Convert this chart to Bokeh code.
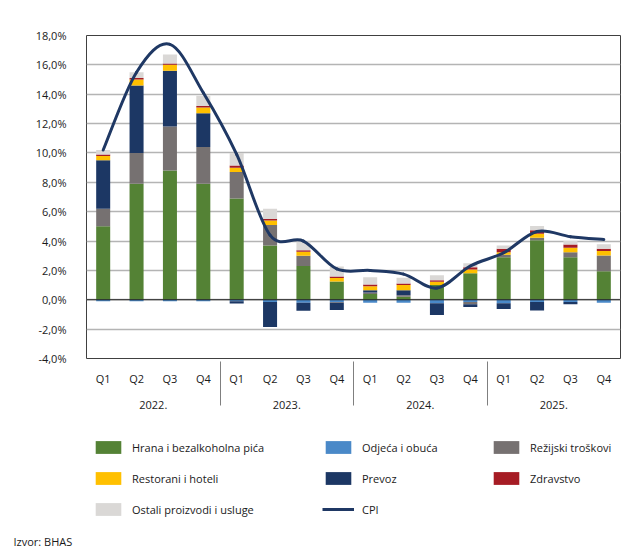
from bokeh.plotting import figure
from bokeh.models import (FactorRange, Range1d, ColumnDataSource, Span, Legend,
                          LegendItem, Label, CustomJSTickFormatter, FixedTicker)
from bokeh.layouts import column
from bokeh.embed import file_html
from bokeh.resources import INLINE

years = ["2022.", "2023.", "2024.", "2025."]
quarters = ["Q1", "Q2", "Q3", "Q4"]
factors = [(y, q) for y in years for q in quarters]

hrana     = [5.0, 7.9, 8.8, 7.9, 6.9, 3.7, 2.3, 1.25, 0.4, 0.2, 1.0, 1.8, 2.9, 4.05, 2.9, 1.95]
odjeca    = [-0.1, -0.1, -0.1, -0.1, -0.1, -0.15, -0.2, -0.15, -0.2, -0.2, -0.23, -0.15, -0.23, -0.16, -0.15, -0.2]
rezijski  = [1.2, 2.1, 3.0, 2.5, 1.8, 1.4, 0.7, -0.05, 0.1, 0.1, 0.0, -0.15, 0.16, 0.18, 0.34, 1.07]
prevoz    = [3.3, 4.6, 3.8, 2.3, -0.15, -1.7, -0.55, -0.5, 0.15, 0.35, -0.8, -0.2, -0.4, -0.57, -0.15, 0.0]
restorani = [0.3, 0.4, 0.4, 0.4, 0.3, 0.3, 0.27, 0.23, 0.27, 0.35, 0.23, 0.27, 0.18, 0.27, 0.3, 0.3]
zdravstvo = [0.1, 0.1, 0.1, 0.1, 0.14, 0.1, 0.1, 0.1, 0.12, 0.1, 0.1, 0.14, 0.23, 0.23, 0.23, 0.16]
ostali    = [0.3, 0.4, 0.6, 0.7, 0.85, 0.7, 0.6, 0.68, 0.5, 0.4, 0.34, 0.27, 0.23, 0.3, 0.23, 0.3]
cpi       = [10.2, 15.5, 17.4, 14.1, 9.9, 4.4, 4.0, 2.1, 2.0, 1.75, 0.8, 2.3, 3.2, 4.65, 4.3, 4.1]

y_ticks = [-4, -2, 0, 2, 4, 6, 8, 10, 12, 14, 16, 18]

FONT = "Open Sans"
TXT = "#1a1a1a"

# stacking order (bottom to top) and colours
series = [
    ("Hrana i bezalkoholna pića", hrana, "#548235"),
    ("Odjeća i obuća", odjeca, "#4A89C8"),
    ("Režijski troškovi", rezijski, "#767171"),
    ("Prevoz", prevoz, "#1C3764"),
    ("Restorani i hoteli", restorani, "#FFC000"),
    ("Zdravstvo", zdravstvo, "#A61C24"),
    ("Ostali proizvodi i usluge", ostali, "#DAD8D6"),
]

W = 621
FL = 86  # frame left

p = figure(x_range=FactorRange(*factors, group_padding=0, factor_padding=0),
           y_range=Range1d(-4, 18), width=W, height=425,
           output_backend="svg", toolbar_location=None,
           min_border_left=FL, min_border_top=35, min_border_right=1,
           min_border_bottom=67)
p.outline_line_color = "#404040"
p.outline_line_width = 1
p.xgrid.grid_line_color = None
p.ygrid.ticker = FixedTicker(ticks=y_ticks)
p.ygrid.grid_line_color = "#B4B4B4"
p.ygrid.grid_line_width = 1.5

n = len(factors)
pos_base = [0.0] * n
neg_base = [0.0] * n
for name, vals, col in series:
    tops, bottoms = [], []
    for i, v in enumerate(vals):
        if v >= 0:
            bottoms.append(pos_base[i]); tops.append(pos_base[i] + v); pos_base[i] += v
        else:
            tops.append(neg_base[i]); bottoms.append(neg_base[i] + v); neg_base[i] += v
    src = ColumnDataSource(dict(x=factors, top=tops, bottom=bottoms))
    p.vbar(x="x", top="top", bottom="bottom", width=0.42, source=src,
           fill_color=col, line_color=None)

p.add_layout(Span(location=0, dimension="width", line_color="#1a1a1a", line_width=1))

# smoothed CPI line (Bezier segments through the data points)
xs = [i + 0.5 for i in range(n)]
bx0, by0, bx1, by1, bcx0, bcy0, bcx1, bcy1 = [], [], [], [], [], [], [], []
for i in range(n - 1):
    a = i - 1 if i > 0 else i
    b = i + 2 if i + 2 < n else i + 1
    bx0.append(xs[i]); by0.append(cpi[i])
    bx1.append(xs[i + 1]); by1.append(cpi[i + 1])
    bcx0.append(xs[i] + (xs[i + 1] - xs[a]) / 6.0)
    bcy0.append(cpi[i] + (cpi[i + 1] - cpi[a]) / 6.0)
    bcx1.append(xs[i + 1] - (xs[b] - xs[i]) / 6.0)
    bcy1.append(cpi[i + 1] - (cpi[b] - cpi[i]) / 6.0)
p.bezier(x0=bx0, y0=by0, x1=bx1, y1=by1, cx0=bcx0, cy0=bcy0, cx1=bcx1, cy1=bcy1,
         line_color="#1F3864", line_width=3, line_cap="round")

yax = p.yaxis[0]
yax.ticker = FixedTicker(ticks=y_ticks)
yax.formatter = CustomJSTickFormatter(code="return tick.toFixed(1).replace('.', ',') + '%';")
yax.axis_line_color = None
yax.major_tick_line_color = None
yax.major_tick_out = 0
yax.major_tick_in = 0
yax.minor_tick_line_color = None
yax.major_label_standoff = 20
yax.major_label_text_font = FONT
yax.major_label_text_font_size = "11px"
yax.major_label_text_color = TXT

xax = p.xaxis[0]
xax.axis_line_color = None
xax.major_tick_line_color = None
xax.major_tick_out = 0
xax.major_tick_in = 0
xax.minor_tick_line_color = None
xax.major_label_standoff = 12
xax.major_label_text_font = FONT
xax.major_label_text_font_size = "11px"
xax.major_label_text_color = TXT
xax.group_text_font = FONT
xax.group_text_font_size = "11px"
xax.group_text_color = TXT
xax.group_text_font_style = "normal"
xax.separator_line_color = "#7f7f7f"
xax.separator_line_width = 1

# legend / source panel
H2 = 123
p2 = figure(width=W, height=H2, x_range=Range1d(0, 1), y_range=Range1d(0, 1),
            output_backend="svg", toolbar_location=None,
            x_axis_location=None, y_axis_location=None, min_border=0)
p2.frame_align = False
p2.outline_line_color = None
p2.grid.visible = False

rend = {}
for name, _, col in series:
    rend[name] = p2.vbar(x=[5], top=[5], bottom=[4], width=0.1, fill_color=col, line_color=None)
rend["CPI"] = p2.line(x=[5, 6], y=[5, 5], line_color="#1F3864", line_width=3)

SP = 15
cols = [
    (["Hrana i bezalkoholna pića", "Restorani i hoteli", "Ostali proizvodi i usluge"], 92),
    (["Odjeća i obuća", "Prevoz", "CPI"], 322),
    (["Režijski troškovi", "Zdravstvo"], 490),
]
for names, x in cols:
    k = len(names)
    h = k * 16 + (k - 1) * SP
    ybot = H2 - 14 - h
    lg = Legend(items=[LegendItem(label=nm, renderers=[rend[nm]]) for nm in names],
                location=(x, ybot), orientation="vertical",
                glyph_width=32, glyph_height=16, label_height=16, label_standoff=8,
                spacing=SP, padding=0, margin=0, border_line_color=None,
                background_fill_alpha=0, label_text_font=FONT,
                label_text_font_size="11px", label_text_color=TXT)
    p2.add_layout(lg)

p2.add_layout(Label(x=13, y=7, x_units="screen", y_units="screen", text="Izvor: BHAS",
                    text_font=FONT, text_font_size="11px", text_color=TXT,
                    text_baseline="middle"))

layout = column(p, p2, spacing=0)
open("out.html", "w").write(file_html(layout, INLINE))
